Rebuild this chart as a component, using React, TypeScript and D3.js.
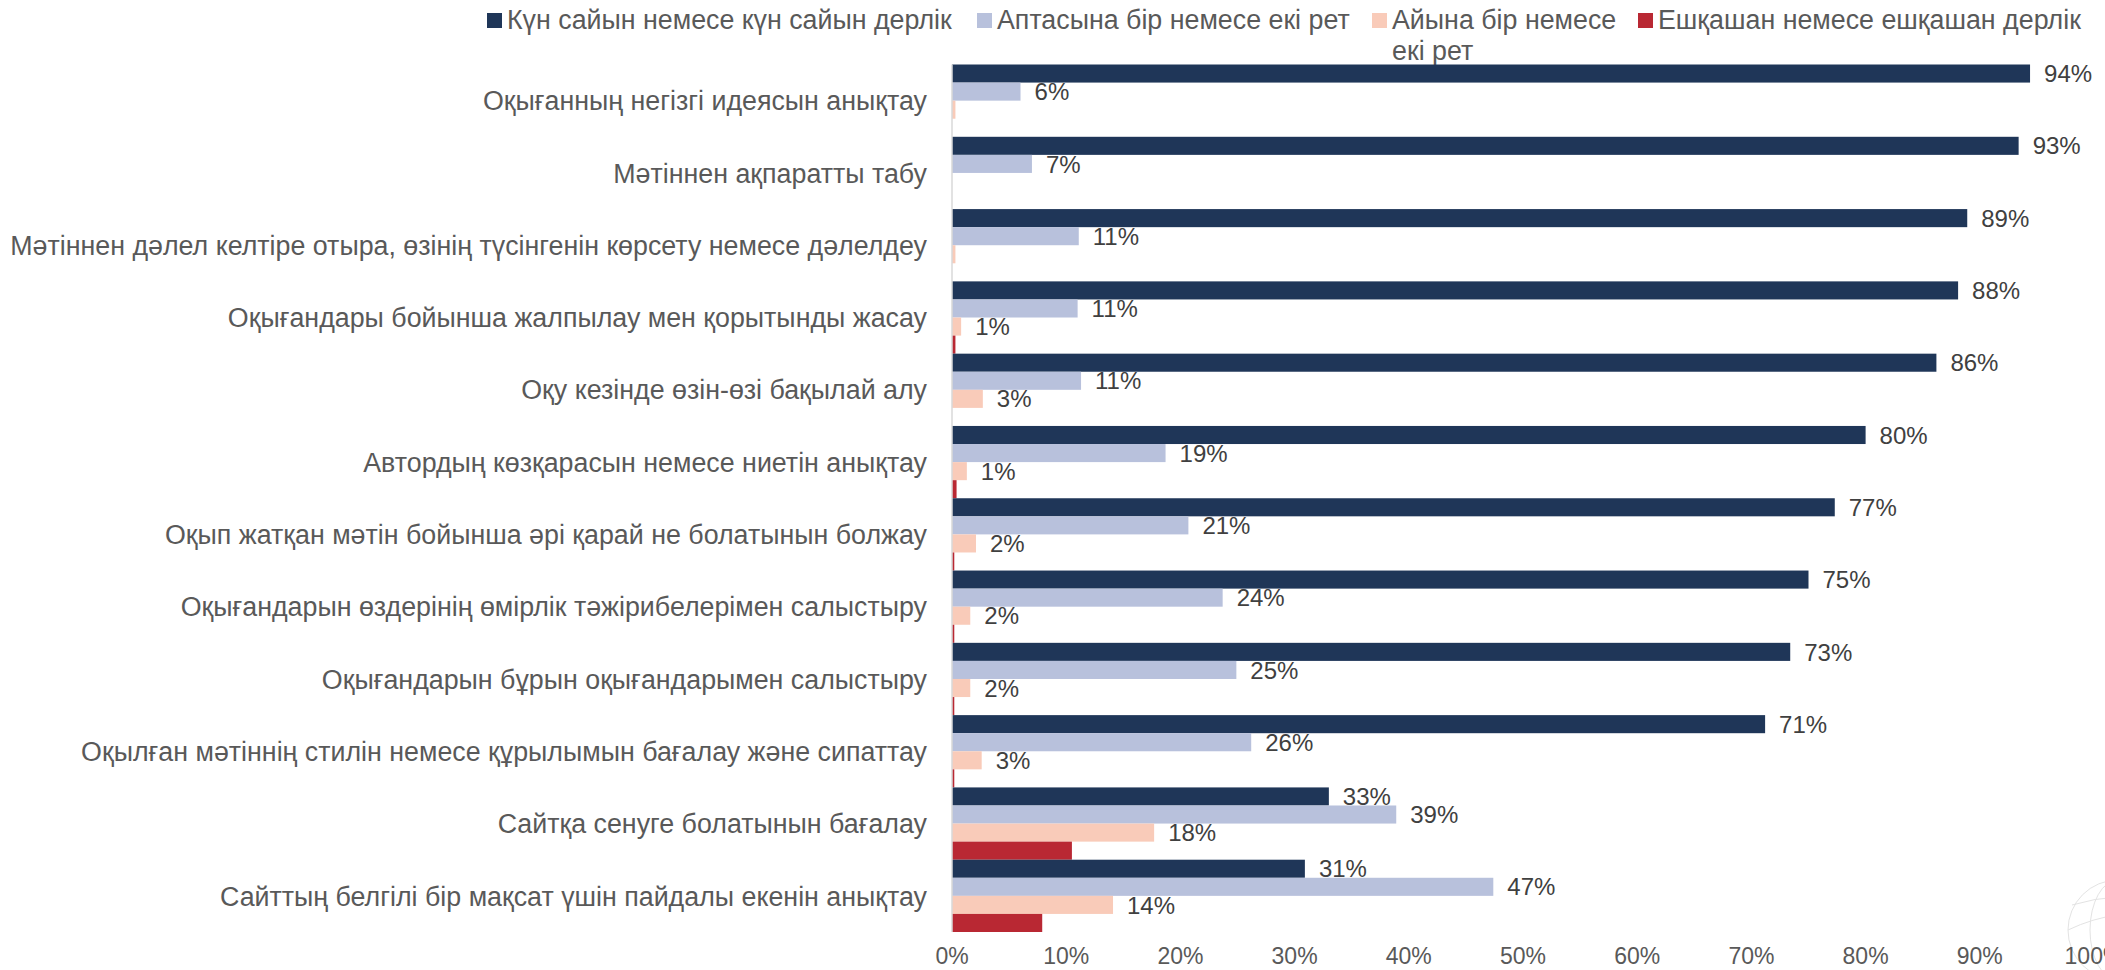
import React from "react";
import * as d3 from "d3";

const categories = [
  "Оқығанның негізгі идеясын анықтау",
  "Мәтіннен ақпаратты табу",
  "Мәтіннен дәлел келтіре отыра, өзінің түсінгенін көрсету немесе дәлелдеу",
  "Оқығандары бойынша жалпылау мен қорытынды жасау",
  "Оқу кезінде өзін-өзі бақылай алу",
  "Автордың көзқарасын немесе ниетін анықтау",
  "Оқып жатқан мәтін бойынша әрі қарай не болатынын болжау",
  "Оқығандарын өздерінің өмірлік тәжірибелерімен салыстыру",
  "Оқығандарын бұрын оқығандарымен салыстыру",
  "Оқылған мәтіннің стилін немесе құрылымын бағалау және сипаттау",
  "Сайтқа сенуге болатынын бағалау",
  "Сайттың белгілі бір мақсат үшін пайдалы екенін анықтау",
];

const seriesNames = [
  "Күн сайын немесе күн сайын дерлік",
  "Аптасына бір немесе екі рет",
  "Айына бір немесе екі рет",
  "Ешқашан немесе ешқашан дерлік",
];

const daily = [94.4, 93.4, 88.9, 88.1, 86.2, 80.0, 77.3, 75.0, 73.4, 71.2, 33.0, 30.9];
const weekly = [6.0, 7.0, 11.1, 11.0, 11.3, 18.7, 20.7, 23.7, 24.9, 26.2, 38.9, 47.4];
const monthly = [0.3, 0, 0.3, 0.8, 2.7, 1.3, 2.1, 1.6, 1.6, 2.6, 17.7, 14.1];
const never = [0, 0, 0, 0.3, 0, 0.4, 0.2, 0.2, 0.2, 0.2, 10.5, 7.9];

const xTicks = [0, 10, 20, 30, 40, 50, 60, 70, 80, 90, 100];

const colors = ["#1f3658", "#b8c1dc", "#f9cbb9", "#b92833"];
const showLabels = [true, true, true, false];

const W = 2105;
const H = 970;
const FONT = "'Liberation Sans', Arial, sans-serif";

export default function App() {
  const series = [daily, weekly, monthly, never];
  const x = d3.scaleLinear().domain([0, 100]).range([952, 2094]);
  const y = d3.scaleBand<string>().domain(categories).range([64.5, 932]).padding(0);
  const inner = d3
    .scaleBand<number>()
    .domain(d3.range(series.length))
    .range([0, y.bandwidth()])
    .padding(0);

  const legendItems = [
    { sx: 487, lines: [seriesNames[0]] },
    { sx: 977, lines: [seriesNames[1]] },
    { sx: 1372, lines: ["Айына бір немесе", "екі рет"] },
    { sx: 1638, lines: [seriesNames[3]] },
  ];

  return (
    <div style={{ position: "absolute", left: 0, top: 0, width: W, height: H, overflow: "hidden", background: "#fff" }}>
      <svg width={W} height={H} style={{ display: "block" }} fontFamily={FONT}>
        <rect x={0} y={0} width={W} height={H} fill="#fff" />
        {/* faint watermark */}
        <g fill="none" stroke="#e3e3e3" strokeWidth={1}>
          <circle cx={2118} cy={930} r={50} />
          <ellipse cx={2118} cy={930} rx={28} ry={50} />
          <path d="M2068,930 Q2093,918 2118,915" />
          <path d="M2072,905 Q2095,898 2118,897" />
        </g>

        {/* legend */}
        {legendItems.map((it, i) => (
          <g key={i}>
            <rect x={it.sx} y={13} width={15} height={15} fill={colors[i]} />
            {it.lines.map((ln, j) => (
              <text key={j} x={it.sx + 20} y={29 + j * 31} fontSize={26.8} fill="#595959">
                {ln}
              </text>
            ))}
          </g>
        ))}

        {/* bars */}
        {categories.map((c, ci) => (
          <g key={c}>
            {series.map((s, si) => {
              const v = s[ci];
              const by = (y(c) as number) + (inner(si) as number);
              const bh = inner.bandwidth();
              const w = x(v) - x(0);
              return (
                <g key={si}>
                  {w > 0 && (
                    <rect x={x(0)} y={by} width={w} height={bh} fill={colors[si]} />
                  )}
                  {showLabels[si] && Math.round(v) >= 1 && (
                    <text
                      x={x(v) + 14}
                      y={by + bh / 2}
                      dy="0.36em"
                      fontSize={24}
                      fill="#404040"
                    >
                      {Math.round(v)}%
                    </text>
                  )}
                </g>
              );
            })}
            <text
              x={927}
              y={(y(c) as number) + y.bandwidth() / 2}
              dy="0.36em"
              textAnchor="end"
              fontSize={26.8}
              fill="#595959"
            >
              {c}
            </text>
          </g>
        ))}

        {/* axis line */}
        <line x1={x(0)} x2={x(0)} y1={64.5} y2={932} stroke="#d9d9d9" strokeWidth={1.5} />

        {/* x tick labels */}
        {xTicks.map((t) => (
          <text key={t} x={x(t)} y={964} textAnchor="middle" fontSize={23} fill="#595959">
            {t}%
          </text>
        ))}
      </svg>
    </div>
  );
}
